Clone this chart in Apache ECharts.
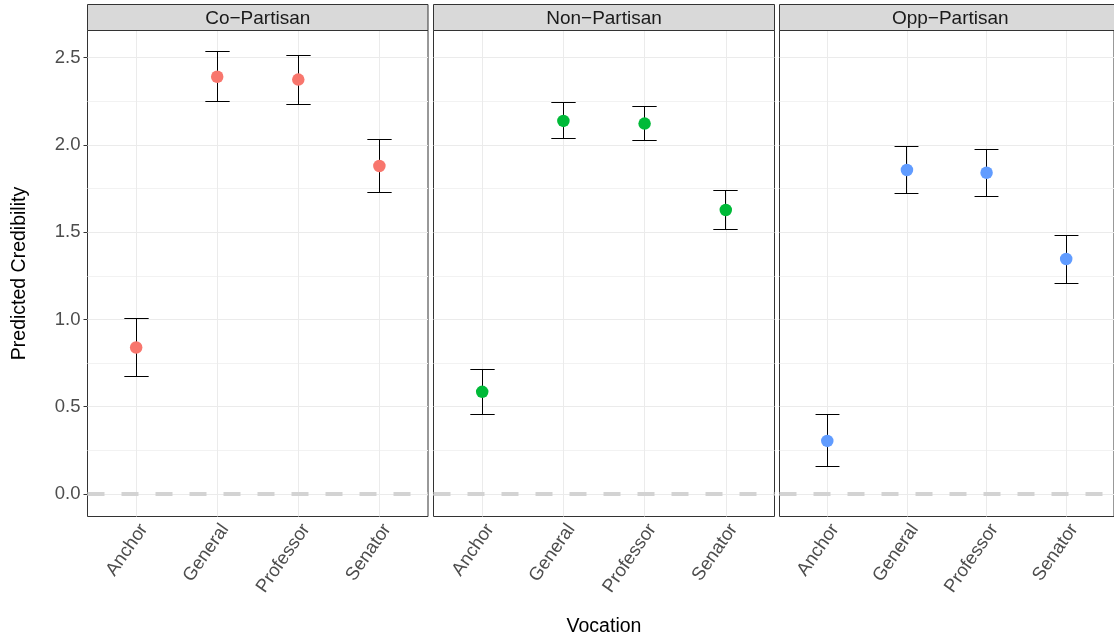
<!DOCTYPE html>
<html>
<head>
<meta charset="utf-8">
<script src="https://cdn.jsdelivr.net/npm/echarts@6/dist/echarts.min.js"></script>
<style>
  html, body { margin: 0; padding: 0; background: #fff; }
  #chart { width: 1114px; height: 636px; }
</style>
</head>
<body>
<div id="chart"></div>
<script>
// vocations (x categories) and facets
const vocations = ['Anchor', 'General', 'Professor', 'Senator'];
const panels = ['Co\u2212Partisan', 'Non\u2212Partisan', 'Opp\u2212Partisan'];
const panelColors = ['#F8766D', '#00BA38', '#619CFF'];

// predicted credibility + interval, per facet
const coEst  = [0.839, 2.390, 2.374, 1.879];
const coLow  = [0.671, 2.246, 2.232, 1.727];
const coHigh = [1.005, 2.535, 2.513, 2.030];

const nonEst  = [0.585, 2.137, 2.122, 1.627];
const nonLow  = [0.457, 2.036, 2.024, 1.514];
const nonHigh = [0.713, 2.240, 2.219, 1.739];

const oppEst  = [0.304, 1.856, 1.840, 1.346];
const oppLow  = [0.157, 1.724, 1.705, 1.208];
const oppHigh = [0.453, 1.991, 1.974, 1.483];

// axis ticks
const yTicks = [0, 0.5, 1.0, 1.5, 2.0, 2.5];
const yMinor = [0.25, 0.75, 1.25, 1.75, 2.25];
const xTicks = [1, 2, 3, 4];

const estimates = [coEst, nonEst, oppEst];
const lows = [coLow, nonLow, oppLow];
const highs = [coHigh, nonHigh, oppHigh];

const fontFamily = '"Liberation Sans", Arial, Helvetica, sans-serif';
const gridBoxes = [
  { left: 87.5, width: 340.5 },
  { left: 433.5, width: 341 },
  { left: 779.5, width: 341.5 },
];
const TOP = 30.5, BOTTOM_Y = 516.5;
const CAP = 0.3;

const chart = echarts.init(document.getElementById('chart'));

const grids = [], xAxes = [], yAxes = [], series = [], graphics = [];

// snap to pixel centre so 1px lines stay crisp
const px = v => Math.round(v - 0.5) + 0.5;

panels.forEach((name, p) => {
  grids.push({
    left: gridBoxes[p].left, top: TOP, width: gridBoxes[p].width, height: BOTTOM_Y - TOP,
    show: true, borderColor: '#333333', borderWidth: 1, backgroundColor: '#fff', containLabel: false,
  });
  xAxes.push({
    type: 'value', gridIndex: p, min: 0.4, max: 4.6,
    axisLine: { show: false },
    splitLine: { show: false },
    axisTick: { show: true, customValues: xTicks, length: 4, lineStyle: { color: '#333333', width: 1 } },
    axisLabel: {
      customValues: xTicks, rotate: 55, margin: 4, verticalAlign: 'top',
      color: '#4d4d4d', fontSize: 18.5, fontFamily,
      formatter: v => vocations[Math.round(v) - 1] || '',
    },
  });
  yAxes.push({
    type: 'value', gridIndex: p, min: -0.129, max: 2.655,
    axisLine: { show: false },
    splitLine: { show: false },
    axisTick: { show: p === 0, customValues: yTicks, length: 4, lineStyle: { color: '#333333', width: 1 } },
    axisLabel: {
      show: p === 0, customValues: yTicks, margin: 7,
      color: '#4d4d4d', fontSize: 18.5, fontFamily,
      formatter: v => v.toFixed(1),
    },
    name: p === 0 ? 'Predicted Credibility' : '',
    nameLocation: 'middle', nameGap: 58,
    nameTextStyle: { color: '#000', fontSize: 19.5, fontFamily },
  });

  // panel grid lines (markLine z defaults to 5, keep it under the marks)
  series.push({
    type: 'scatter', xAxisIndex: p, yAxisIndex: p, data: [], silent: true, z: 1,
    markLine: {
      z: 1,
      silent: true, symbol: 'none', animation: false, label: { show: false },
      lineStyle: { color: '#ebebeb', width: 1, type: 'solid' },
      emphasis: { disabled: true },
      data: [
        ...yTicks.map(v => ({ yAxis: v })),
        ...yMinor.map(v => ({ yAxis: v, lineStyle: { color: '#f2f2f2', width: 1 } })),
        ...xTicks.map(v => ({ xAxis: v })),
      ],
    },
  });
  // reference line at zero
  series.push({
    type: 'scatter', xAxisIndex: p, yAxisIndex: p, data: [], silent: true, z: 2,
    markLine: {
      z: 2,
      silent: true, symbol: 'none', animation: false, label: { show: false },
      emphasis: { disabled: true },
      lineStyle: { color: '#d3d3d3', width: 4, type: [17, 17], cap: 'butt' },
      data: [{ yAxis: 0 }],
    },
  });
  // error bars
  series.push({
    type: 'custom', xAxisIndex: p, yAxisIndex: p, z: 3, silent: true,
    data: vocations.map((v, i) => [i + 1, lows[p][i], highs[p][i]]),
    renderItem: (params, api) => {
      const x = api.value(0);
      const lo = api.coord([x, api.value(1)]);
      const hi = api.coord([x, api.value(2)]);
      const half = api.size([CAP, 0])[0] / 2;
      const cx = px(lo[0]);
      const yLo = px(lo[1]), yHi = px(hi[1]);
      const style = { stroke: '#000', lineWidth: 1 };
      return {
        type: 'group',
        children: [
          { type: 'line', shape: { x1: cx, y1: yLo, x2: cx, y2: yHi }, style },
          { type: 'line', shape: { x1: cx - half, y1: yHi, x2: cx + half, y2: yHi }, style },
          { type: 'line', shape: { x1: cx - half, y1: yLo, x2: cx + half, y2: yLo }, style },
        ],
      };
    },
  });
  // point estimates
  series.push({
    type: 'scatter', xAxisIndex: p, yAxisIndex: p, z: 4, silent: true,
    symbol: 'circle', symbolSize: 12.5,
    itemStyle: { color: panelColors[p], opacity: 1 },
    data: vocations.map((v, i) => [i + 1, estimates[p][i]]),
  });

  // facet strip
  graphics.push({
    type: 'rect', silent: true, z: 10,
    shape: { x: gridBoxes[p].left, y: 4.5, width: gridBoxes[p].width, height: TOP - 4.5 },
    style: { fill: '#d9d9d9', stroke: '#333333', lineWidth: 1 },
  });
  graphics.push({
    type: 'text', silent: true, z: 11,
    x: gridBoxes[p].left + gridBoxes[p].width / 2, y: 18.5,
    style: {
      text: name, fill: '#1a1a1a', fontSize: 19, fontFamily,
      align: 'center', verticalAlign: 'middle',
    },
  });
});

graphics.push({
  type: 'text', silent: true,
  x: 604, y: 627,
  style: { text: 'Vocation', fill: '#000', fontSize: 19.5, fontFamily, align: 'center', verticalAlign: 'middle' },
});

chart.setOption({
  animation: false,
  backgroundColor: '#fff',
  textStyle: { fontFamily },
  grid: grids,
  xAxis: xAxes,
  yAxis: yAxes,
  series,
  graphic: graphics,
});
</script>
</body>
</html>
